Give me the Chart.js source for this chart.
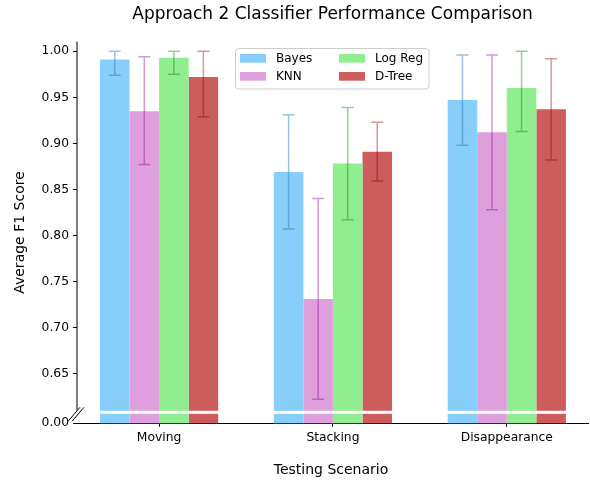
<!DOCTYPE html>
<html>
<head>
<meta charset="utf-8">
<title>Approach 2 Classifier Performance Comparison</title>
<script src="https://cdn.jsdelivr.net/npm/chart.js@4.4.1/dist/chart.umd.min.js"></script>
<style>
  html, body { margin: 0; padding: 0; background: #ffffff; }
  #wrap { width: 590px; height: 480px; }
</style>
</head>
<body>
<div id="wrap"><canvas id="chart" width="590" height="480"></canvas></div>
<script>
// Testing scenarios (x categories)
const scenarios = ['Moving', 'Stacking', 'Disappearance'];

// Classifier names
const classifiers = ['Bayes', 'KNN', 'Log Reg', 'D-Tree'];

// Mean F1 score per scenario
const bayesF1  = [0.991, 0.869, 0.947];
const knnF1    = [0.935, 0.731, 0.912];
const logRegF1 = [0.993, 0.878, 0.960];
const dTreeF1  = [0.972, 0.891, 0.937];

// Error bar extents below / above the mean (upper side capped at 1.0)
const bayesErrLow  = [0.017, 0.062, 0.049];
const bayesErrHigh = [0.009, 0.062, 0.049];
const knnErrLow    = [0.058, 0.109, 0.084];
const knnErrHigh   = [0.059, 0.109, 0.084];
const logRegErrLow  = [0.018, 0.061, 0.047];
const logRegErrHigh = [0.007, 0.061, 0.040];
const dTreeErrLow  = [0.043, 0.032, 0.055];
const dTreeErrHigh = [0.028, 0.032, 0.055];

// Y axis ticks: upper segment values plus the label shown below the axis break
const yTickValues = [0.65, 0.70, 0.75, 0.80, 0.85, 0.90, 0.95, 1.00];
const yBreakLabel = '0.00';

// Axis range of the upper (visible) segment
const yMin = 0.596;
const yMax = 1.0104;

const barColors = ['#87CEFA', '#DDA0DD', '#90EE90', '#CD5C5C'];
const errColors = ['rgba(31,119,180,0.45)', 'rgba(148,0,148,0.40)', 'rgba(0,128,0,0.40)', 'rgba(139,0,0,0.40)'];

const seriesValues = [bayesF1, knnF1, logRegF1, dTreeF1];
const seriesErrLow = [bayesErrLow, knnErrLow, logRegErrLow, dTreeErrLow];
const seriesErrHigh = [bayesErrHigh, knnErrHigh, logRegErrHigh, dTreeErrHigh];

const FONT = "'DejaVu Sans', 'Liberation Sans', sans-serif";

const datasets = classifiers.map((name, i) => ({
  label: name,
  data: seriesValues[i].map((v, j) => ({ x: j, y: v })),
  backgroundColor: barColors[i],
  borderWidth: 0,
  categoryPercentage: 0.68,
  barPercentage: 1.0,
  errLow: seriesErrLow[i],
  errHigh: seriesErrHigh[i],
  errColor: errColors[i]
}));

// Error bars with caps, drawn on top of the bars
const errorBarPlugin = {
  id: 'errorBars',
  afterDatasetsDraw(chart) {
    const ctx = chart.ctx;
    const yScale = chart.scales.y;
    chart.data.datasets.forEach((ds, di) => {
      const meta = chart.getDatasetMeta(di);
      meta.data.forEach((bar, j) => {
        const v = ds.data[j].y;
        const yLo = yScale.getPixelForValue(v - ds.errLow[j]);
        const yHi = yScale.getPixelForValue(v + ds.errHigh[j]);
        const x = bar.x;
        const cap = 6;
        ctx.save();
        ctx.strokeStyle = ds.errColor;
        ctx.lineWidth = 1.5;
        ctx.beginPath();
        ctx.moveTo(x, yLo); ctx.lineTo(x, yHi);
        ctx.moveTo(x - cap, yLo); ctx.lineTo(x + cap, yLo);
        ctx.moveTo(x - cap, yHi); ctx.lineTo(x + cap, yHi);
        ctx.stroke();
        ctx.restore();
      });
    });
  }
};

// Title, axis titles, left spine with break marks, white break band and legend
const decorPlugin = {
  id: 'decor',
  afterDraw(chart) {
    const ctx = chart.ctx;
    const a = chart.chartArea;
    const cx = (a.left + a.right) / 2;
    ctx.save();

    // white band across the bars marking the axis break
    ctx.fillStyle = '#ffffff';
    ctx.fillRect(a.left + 1, a.bottom - 12.5, a.right - a.left - 1, 3);

    // left spine, interrupted at the break
    ctx.strokeStyle = '#000000';
    ctx.lineWidth = 1;
    ctx.beginPath();
    ctx.moveTo(a.left + 0.5, a.top);
    ctx.lineTo(a.left + 0.5, a.bottom - 13);
    ctx.stroke();

    // break marks
    ctx.beginPath();
    ctx.moveTo(a.left - 8.5, a.bottom - 2);
    ctx.lineTo(a.left + 3.5, a.bottom - 16);
    ctx.moveTo(a.left - 4.5, a.bottom - 2);
    ctx.lineTo(a.left + 7.5, a.bottom - 16);
    ctx.stroke();

    // title
    ctx.fillStyle = '#000000';
    ctx.font = '17px ' + FONT;
    ctx.textAlign = 'center';
    ctx.textBaseline = 'alphabetic';
    ctx.fillText('Approach 2 Classifier Performance Comparison', cx, 19);

    // x axis title
    ctx.font = '14px ' + FONT;
    ctx.fillText('Testing Scenario', cx - 1.5, 474);

    // y axis title
    ctx.save();
    ctx.translate(24, (a.top + a.bottom) / 2);
    ctx.rotate(-Math.PI / 2);
    ctx.fillText('Average F1 Score', 0, 0);
    ctx.restore();

    // legend (two columns)
    const lx = 235.5, ly = 48.5, lw = 193.5, lh = 40.5;
    ctx.beginPath();
    ctx.roundRect(lx, ly, lw, lh, 3);
    ctx.fillStyle = 'rgba(255,255,255,0.8)';
    ctx.fill();
    ctx.strokeStyle = '#cccccc';
    ctx.lineWidth = 1;
    ctx.stroke();

    const colX = [240, 339];
    const rowY = [54, 72];
    ctx.font = '12px ' + FONT;
    ctx.textAlign = 'left';
    ctx.textBaseline = 'middle';
    chart.data.datasets.forEach((ds, i) => {
      const col = Math.floor(i / 2);
      const row = i % 2;
      ctx.fillStyle = ds.backgroundColor;
      ctx.fillRect(colX[col], rowY[row], 26, 8.7);
      ctx.fillStyle = '#000000';
      ctx.fillText(ds.label, colX[col] + 36, rowY[row] + 4.5);
    });

    ctx.restore();
  }
};

new Chart(document.getElementById('chart'), {
  type: 'bar',
  data: { datasets },
  options: {
    responsive: false,
    animation: false,
    layout: { padding: { left: 0, right: 1.5, top: 41.7, bottom: 0 } },
    plugins: {
      legend: { display: false },
      title: { display: false },
      tooltip: { enabled: false }
    },
    scales: {
      x: {
        type: 'linear',
        min: -0.475,
        max: 2.47,
        offset: false,
        afterBuildTicks: (scale) => { scale.ticks = scenarios.map((_, i) => ({ value: i })); },
        afterFit: (scale) => { scale.height = 56.7; },
        ticks: {
          callback: (v) => scenarios[v],
          color: '#000000',
          font: { family: FONT, size: 12.3 },
          padding: 3.5,
          maxRotation: 0,
          autoSkip: false
        },
        grid: { display: true, offset: false, drawOnChartArea: false, tickLength: 3.5, tickColor: '#000000', tickWidth: 1 },
        border: { display: true, color: '#000000', width: 1 }
      },
      y: {
        type: 'linear',
        min: yMin,
        max: yMax,
        afterBuildTicks: (scale) => {
          scale.ticks = [{ value: yMin }].concat(yTickValues.map(v => ({ value: v })));
        },
        afterFit: (scale) => { scale.width = 76.5; },
        ticks: {
          callback: (v) => (Math.abs(v - yMin) < 1e-9 ? yBreakLabel : v.toFixed(2)),
          color: '#000000',
          font: { family: FONT, size: 12.3 },
          padding: 4,
          autoSkip: false
        },
        grid: { display: true, drawOnChartArea: false, tickLength: 3.5, tickColor: '#000000', tickWidth: 1 },
        border: { display: false }
      }
    }
  },
  plugins: [errorBarPlugin, decorPlugin]
});
</script>
</body>
</html>
